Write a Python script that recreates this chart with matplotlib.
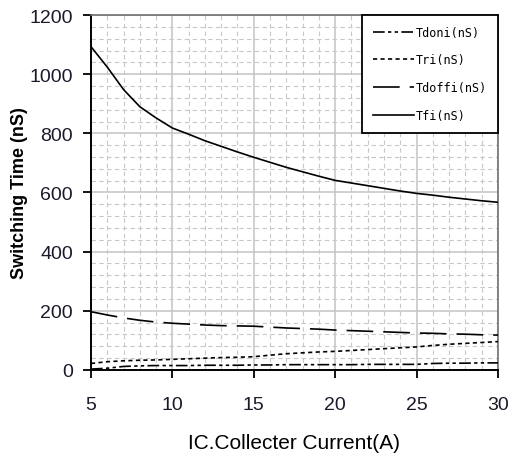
import matplotlib
matplotlib.use("Agg")
import matplotlib.pyplot as plt
from matplotlib.ticker import MultipleLocator

current = [5, 6, 7, 8, 9, 10, 11, 12, 13, 14, 15, 16, 17, 18, 19, 20,
           21, 22, 23, 24, 25, 26, 27, 28, 29, 30]
tdoni = [3, 6, 12, 14, 15, 15, 15, 16, 16, 16, 17, 17, 18, 18, 18, 18,
         18, 19, 19, 19, 19, 22, 23, 23, 24, 24]
tri = [22, 28, 31, 33, 34, 36, 38, 40, 42, 43, 45, 50, 55, 58, 61, 63,
       66, 69, 72, 75, 78, 83, 87, 90, 93, 96]
tdoffi = [197, 186, 176, 168, 162, 158, 155, 152, 150, 149, 148, 145, 142,
          140, 138, 135, 133, 131, 129, 127, 125, 124, 122, 121, 119, 118]
tfi = [1093, 1024, 948, 890, 852, 818, 797, 775, 756, 737, 719, 702, 685,
       670, 655, 641, 632, 623, 614, 605, 597, 591, 584, 578, 572, 567]
labels = ["Tdoni(nS)", "Tri(nS)", "Tdoffi(nS)", "Tfi(nS)"]
x_ticks = [5, 10, 15, 20, 25, 30]
y_ticks = [0, 200, 400, 600, 800, 1000, 1200]

fig = plt.figure(figsize=(5.1, 4.6), dpi=100)
ax = fig.add_axes([0.1784, 0.1935, 0.798, 0.7717])

lw = 1.2
ax.plot(current, tdoni, color="black", lw=lw, dashes=(7, 2, 2, 2, 2, 2), label=labels[0], zorder=3)
ax.plot(current, tri, color="black", lw=lw, dashes=(2.5, 2), label=labels[1], zorder=3)
ax.plot(current, tdoffi, color="black", lw=lw, dashes=(16, 6), label=labels[2], zorder=3)
ax.plot(current, tfi, color="black", lw=lw, label=labels[3], zorder=3)

ax.set_xlim(5, 30)
ax.set_ylim(0, 1200)
ax.set_xticks(x_ticks)
ax.set_yticks(y_ticks)
ax.xaxis.set_minor_locator(MultipleLocator(1))
ax.yaxis.set_minor_locator(MultipleLocator(40))

ax.grid(which="major", color="#c4c4c4", lw=1.1, ls="-", zorder=0)
ax.grid(which="minor", color="#c8c8c8", lw=0.8, ls=(0, (4, 3)), zorder=0)
ax.set_axisbelow(True)

ax.tick_params(axis="both", which="major", direction="out", length=6, width=1.3, color="black")
ax.tick_params(axis="both", which="minor", length=0)
ax.tick_params(axis="x", pad=13)
ax.tick_params(axis="y", pad=7)
for t in ax.get_xticklabels() + ax.get_yticklabels():
    t.set_fontfamily("Liberation Sans")
    t.set_fontsize(14)
    t.set_color("#1a1a2a")

for s in ["left", "bottom"]:
    ax.spines[s].set_color("black")
    ax.spines[s].set_linewidth(1.4)
for s in ["top", "right"]:
    ax.spines[s].set_color("#707070")
    ax.spines[s].set_linewidth(1.2)

ax.set_xlabel("IC.Collecter Current(A)", family="Liberation Sans",
              fontsize=15, labelpad=14)
ax.set_ylabel("Switching Time (nS)", family="Liberation Sans", fontweight="bold",
              fontsize=13)
ax.yaxis.set_label_coords(-0.155, 0.5)

leg = ax.legend(loc="upper right", bbox_to_anchor=(1.0, 1.0), borderaxespad=0,
                prop=dict(family="DejaVu Sans Mono", size=8.5),
                handlelength=3.5, handletextpad=0.15, labelspacing=1.25,
                borderpad=0.9, fancybox=False, framealpha=1, edgecolor="black")
leg.get_frame().set_linewidth(1.3)

fig.savefig("out.png", dpi=100)
